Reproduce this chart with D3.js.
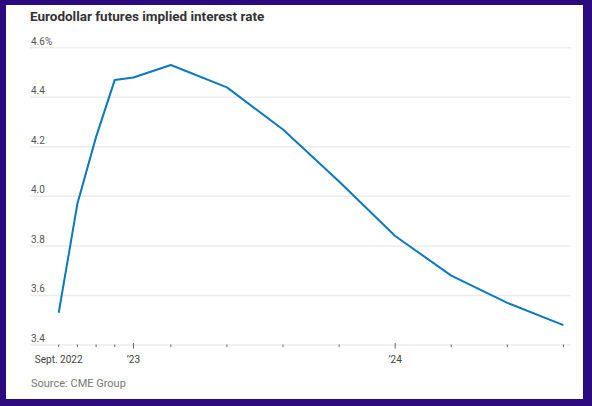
<!DOCTYPE html>
<html>
<head>
<meta charset="utf-8">
<script src="https://cdn.jsdelivr.net/npm/d3@7"></script>
<style>
  body { margin: 0; background: #2b0a80; }
  svg { display: block; }
</style>
</head>
<body>
<div id="chart"></div>
<script>
// Dữ liệu: tháng tính từ Sept. 2022 và lãi suất ngụ ý (%)
const months = [0, 1, 2, 3, 4, 6, 9, 12, 15, 18, 21, 24, 27];
const rates = [3.53, 3.97, 4.24, 4.47, 4.48, 4.53, 4.44, 4.27, 4.06, 3.84, 3.68, 3.57, 3.48];
const yTicks = [3.4, 3.6, 3.8, 4.0, 4.2, 4.4, 4.6];
const xTicks = [0, 1, 2, 3, 4, 6, 9, 12, 15, 18, 21, 24, 27];
const xLabels = [[0, "Sept. 2022"], [4, "\u201923"], [18, "\u201924"]];
const majorTicks = [4, 18];

const W = 592, H = 406;
const data = months.map((m, i) => ({ m, v: rates[i] }));

const svg = d3.select("#chart").append("svg")
    .attr("width", W)
    .attr("height", H);

// Khung trắng
svg.append("rect")
    .attr("x", 6).attr("y", 5)
    .attr("width", 577).attr("height", 394)
    .attr("fill", "#fff");

const x = d3.scaleLinear().domain([0, 27]).range([58.7, 563.4]);
const y = d3.scaleLinear().domain([3.4, 4.6]).range([345, 47.7]);
const gridLeft = 30, gridRight = 571;

// Tiêu đề
svg.append("text")
    .attr("x", 30)
    .attr("y", 21)
    .style("font-family", "Roboto, sans-serif")
    .style("font-size", "13.5px")
    .style("font-weight", "bold")
    .attr("fill", "#333")
    .text("Eurodollar futures implied interest rate");

// Lưới ngang
svg.selectAll(".grid")
    .data(yTicks)
    .enter().append("line")
    .attr("x1", gridLeft).attr("x2", gridRight)
    .attr("y1", d => y(d)).attr("y2", d => y(d))
    .attr("stroke", "#ececec")
    .attr("stroke-width", 1.5);

svg.selectAll(".ylab")
    .data(yTicks)
    .enter().append("text")
    .attr("x", 31)
    .attr("y", d => y(d) - 3)
    .style("font-family", "Roboto, sans-serif")
    .style("font-size", "10px")
    .attr("fill", "#555")
    .text(d => d === 4.6 ? "4.6%" : d.toFixed(1));

// Trục x
const xAxis = svg.append("g").attr("transform", `translate(0, ${y(3.4)})`);
xAxis.selectAll("line")
    .data(xTicks)
    .enter().append("line")
    .attr("x1", d => x(d)).attr("x2", d => x(d))
    .attr("y1", d => majorTicks.includes(d) ? -2 : -0.5)
    .attr("y2", d => majorTicks.includes(d) ? 3.5 : 2)
    .attr("stroke", "#666")
    .attr("stroke-width", 1);

xAxis.selectAll("text")
    .data(xLabels)
    .enter().append("text")
    .attr("x", d => x(d[0]))
    .attr("y", 18)
    .attr("text-anchor", "middle")
    .style("font-family", "Roboto, sans-serif")
    .style("font-size", "10px")
    .attr("fill", "#444")
    .text(d => d[1]);

// Đường lãi suất
const line = d3.line()
    .x(d => x(d.m))
    .y(d => y(d.v));

svg.append("path")
    .datum(data)
    .attr("fill", "none")
    .attr("stroke", "#0a79bd")
    .attr("stroke-width", 2)
    .attr("stroke-linejoin", "round")
    .attr("d", line);

// Nguồn
svg.append("text")
    .attr("x", 31)
    .attr("y", 387)
    .style("font-family", "Roboto, sans-serif")
    .style("font-size", "11px")
    .attr("fill", "#777")
    .text("Source: CME Group");
</script>
</body>
</html>
